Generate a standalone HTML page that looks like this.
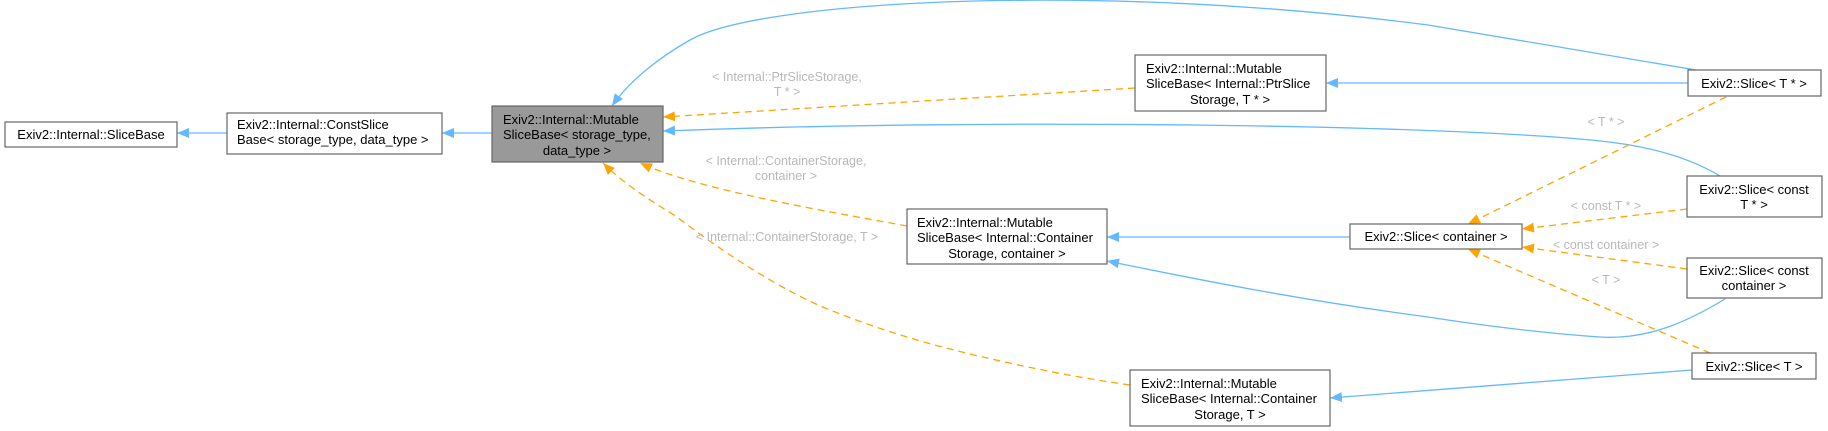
<!DOCTYPE html>
<html><head><meta charset="utf-8"><style>
html,body{margin:0;padding:0;background:#fff;}
svg{display:block;font-family:"Liberation Sans",Helvetica,Arial,sans-serif;}
.n{fill:#fff;stroke:#666;stroke-width:1.2}
.t{font-size:13px;fill:#000}
.l{font-size:12.5px;fill:#b8b8b8;text-anchor:middle}
.b{fill:none;stroke:#63b8ff;stroke-width:1.3}
.o{fill:none;stroke:#ffa500;stroke-width:1.3;stroke-dasharray:7,5}
</style></head><body>
<svg width="1828" height="431" viewBox="0 0 1828 431" xmlns="http://www.w3.org/2000/svg">
<defs>
<marker id="ab" markerWidth="12" markerHeight="10" refX="12" refY="5" orient="auto" markerUnits="userSpaceOnUse"><path d="M0,0 L12,5 L0,10 Z" fill="#63b8ff"/></marker>
<marker id="ao" markerWidth="12" markerHeight="10" refX="12" refY="5" orient="auto" markerUnits="userSpaceOnUse"><path d="M0,0 L12,5 L0,10 Z" fill="#ffa500"/></marker>
</defs>

<!-- edges -->
<path class="b" d="M227,133 L177,133" marker-end="url(#ab)"/>
<path class="b" d="M492,133 L442,133" marker-end="url(#ab)"/>
<path class="o" d="M1135,88 L663,117" marker-end="url(#ao)"/>
<path class="b" d="M1696,70 L1428,25 C1100,-18 760,0 690,40 C660,57 630,80 612,106" marker-end="url(#ab)"/>
<path class="b" d="M1720,176 C1690,158 1650,146 1600,141 C1450,125 1000,118 663,131" marker-end="url(#ab)"/>
<path class="o" d="M907,226 C820,210 700,190 640,163" marker-end="url(#ao)"/>
<path class="o" d="M1130,385 C1080,378 1030,368 983,357 C930,345 880,330 830,310 C780,290 720,250 677,217 C650,200 625,185 603,163" marker-end="url(#ao)"/>
<path class="b" d="M1688,83 L1326,83" marker-end="url(#ab)"/>
<path class="b" d="M1350,237 L1107,237" marker-end="url(#ab)"/>
<path class="b" d="M1725,299 C1690,320 1650,340 1600,337 C1540,333 1480,325 1428,317 C1300,300 1200,280 1107,261" marker-end="url(#ab)"/>
<path class="b" d="M1692,370 L1330,398" marker-end="url(#ab)"/>
<path class="o" d="M1726,97 L1468,224" marker-end="url(#ao)"/>
<path class="o" d="M1687,209 L1522,229" marker-end="url(#ao)"/>
<path class="o" d="M1687,269 L1522,247" marker-end="url(#ao)"/>
<path class="o" d="M1710,353 L1468,249" marker-end="url(#ao)"/>

<!-- edge labels -->
<text class="l" x="787" y="81">&lt; Internal::PtrSliceStorage,</text>
<text class="l" x="787" y="96">T * &gt;</text>
<text class="l" x="786" y="165">&lt; Internal::ContainerStorage,</text>
<text class="l" x="786" y="180">container &gt;</text>
<text class="l" x="787" y="241">&lt; Internal::ContainerStorage, T &gt;</text>
<text class="l" x="1606" y="126">&lt; T * &gt;</text>
<text class="l" x="1606" y="210">&lt; const T * &gt;</text>
<text class="l" x="1606" y="249">&lt; const container &gt;</text>
<text class="l" x="1606" y="284">&lt; T &gt;</text>

<!-- nodes -->
<rect class="n" x="5" y="122" width="172" height="25"/>
<text class="t" x="91" y="139" text-anchor="middle">Exiv2::Internal::SliceBase</text>

<rect class="n" x="227" y="113" width="215" height="41"/>
<text class="t" x="237" y="129">Exiv2::Internal::ConstSlice</text>
<text class="t" x="237" y="144">Base&lt; storage_type, data_type &gt;</text>

<rect x="492" y="106" width="171" height="56" fill="#999" stroke="#666" stroke-width="1.2"/>
<text class="t" x="503" y="124">Exiv2::Internal::Mutable</text>
<text class="t" x="503" y="139">SliceBase&lt; storage_type,</text>
<text class="t" x="577" y="155" text-anchor="middle">data_type &gt;</text>

<rect class="n" x="1135" y="55" width="191" height="56"/>
<text class="t" x="1146" y="73">Exiv2::Internal::Mutable</text>
<text class="t" x="1146" y="88">SliceBase&lt; Internal::PtrSlice</text>
<text class="t" x="1230" y="104" text-anchor="middle">Storage, T * &gt;</text>

<rect class="n" x="907" y="209" width="200" height="55"/>
<text class="t" x="917" y="227">Exiv2::Internal::Mutable</text>
<text class="t" x="917" y="242">SliceBase&lt; Internal::Container</text>
<text class="t" x="1007" y="258" text-anchor="middle">Storage, container &gt;</text>

<rect class="n" x="1130" y="370" width="200" height="56"/>
<text class="t" x="1141" y="388">Exiv2::Internal::Mutable</text>
<text class="t" x="1141" y="403">SliceBase&lt; Internal::Container</text>
<text class="t" x="1230" y="419" text-anchor="middle">Storage, T &gt;</text>

<rect class="n" x="1688" y="70" width="133" height="26"/>
<text class="t" x="1754" y="88" text-anchor="middle">Exiv2::Slice&lt; T * &gt;</text>

<rect class="n" x="1687" y="176" width="135" height="41"/>
<text class="t" x="1754" y="194" text-anchor="middle">Exiv2::Slice&lt; const</text>
<text class="t" x="1754" y="209" text-anchor="middle">T * &gt;</text>

<rect class="n" x="1350" y="224" width="172" height="25"/>
<text class="t" x="1436" y="241" text-anchor="middle">Exiv2::Slice&lt; container &gt;</text>

<rect class="n" x="1687" y="258" width="135" height="40"/>
<text class="t" x="1754" y="275" text-anchor="middle">Exiv2::Slice&lt; const</text>
<text class="t" x="1754" y="290" text-anchor="middle">container &gt;</text>

<rect class="n" x="1692" y="353" width="124" height="26"/>
<text class="t" x="1754" y="371" text-anchor="middle">Exiv2::Slice&lt; T &gt;</text>
</svg>
</body></html>
